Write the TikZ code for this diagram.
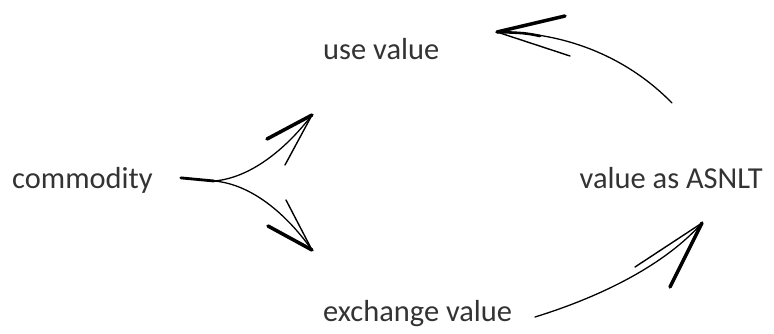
\documentclass[tikz,border=0pt]{standalone}
\usepackage{fontspec}
\setmainfont{Carlito}
\usetikzlibrary{calc}

\begin{document}
\begin{tikzpicture}[
    % one unit = one pixel of the sketch, y pointing down
    x=0.03cm, y=-0.03cm,
    % text labels
    word_node/.style={anchor=base west, inner sep=0pt, font=\fontsize{26}{30}\selectfont, text=black!80},
    % strokes of the hand-drawn arrows
    shaft/.style={line width=1.1pt, line cap=round},
    stem/.style={line width=2.4pt, line cap=round},
    barb_thick/.style={line width=3.0pt, line cap=round},
    barb_thin/.style={line width=1.2pt, line cap=round}
]
    \useasboundingbox (0,0) rectangle (774,334);

    % =========================================================================
    % LABELS
    % =========================================================================
    \node (commodity) [word_node] at (12,188) {commodity};
    \node (use_value) [word_node] at (323,59) {use value};
    \node (asnlt) [word_node, anchor=base east] at (763,188) {value as ASNLT};
    \node (exchange) [word_node] at (323,321) {exchange value};

    % =========================================================================
    % ARROW ENDS
    % =========================================================================
    \coordinate (fork_start) at ($(commodity.east)+(28,-2)$);
    \coordinate (fork_split) at (214,181);
    \coordinate (use_tip) at (312,115);
    \coordinate (exch_tip) at (312,250);
    \coordinate (top_tail) at (672,103);
    \coordinate (top_tip) at (497,32);
    \coordinate (bot_tail) at (535,317);
    \coordinate (bot_tip) at (702,223);

    % =========================================================================
    % FORK: commodity splits into use value and exchange value
    % =========================================================================
    \draw [stem] (fork_start) -- (fork_split);
    \draw [shaft] (fork_split) .. controls (250,178) and (285,150) .. (use_tip);
    \draw [shaft] (fork_split) .. controls (250,184) and (285,212) .. (exch_tip);
    \draw [barb_thick] (use_tip) -- ++(-45,24);
    \draw [barb_thin] (use_tip) -- ++(-27,50);
    \draw [barb_thick] (exch_tip) -- ++(-44,-24);
    \draw [barb_thin] (exch_tip) -- ++(-26,-50);

    % =========================================================================
    % CIRCUIT: exchange value -> value as ASNLT -> use value
    % =========================================================================
    \draw [shaft] (bot_tail) .. controls (590,300) and (660,270) .. (bot_tip);
    \draw [barb_thin] (bot_tip) -- ++(-67,44);
    \draw [barb_thick] (bot_tip) -- ++(-32,64);

    \draw [shaft] (top_tail) .. controls (630,60) and (570,32) .. (top_tip);
    \draw [line width=2.2pt, line cap=round] (540,36) .. controls (525,33) .. (top_tip);
    \draw [barb_thick] (top_tip) -- ++(68,-16);
    \draw [barb_thin] (top_tip) -- ++(73,24);

\end{tikzpicture}
\end{document}
